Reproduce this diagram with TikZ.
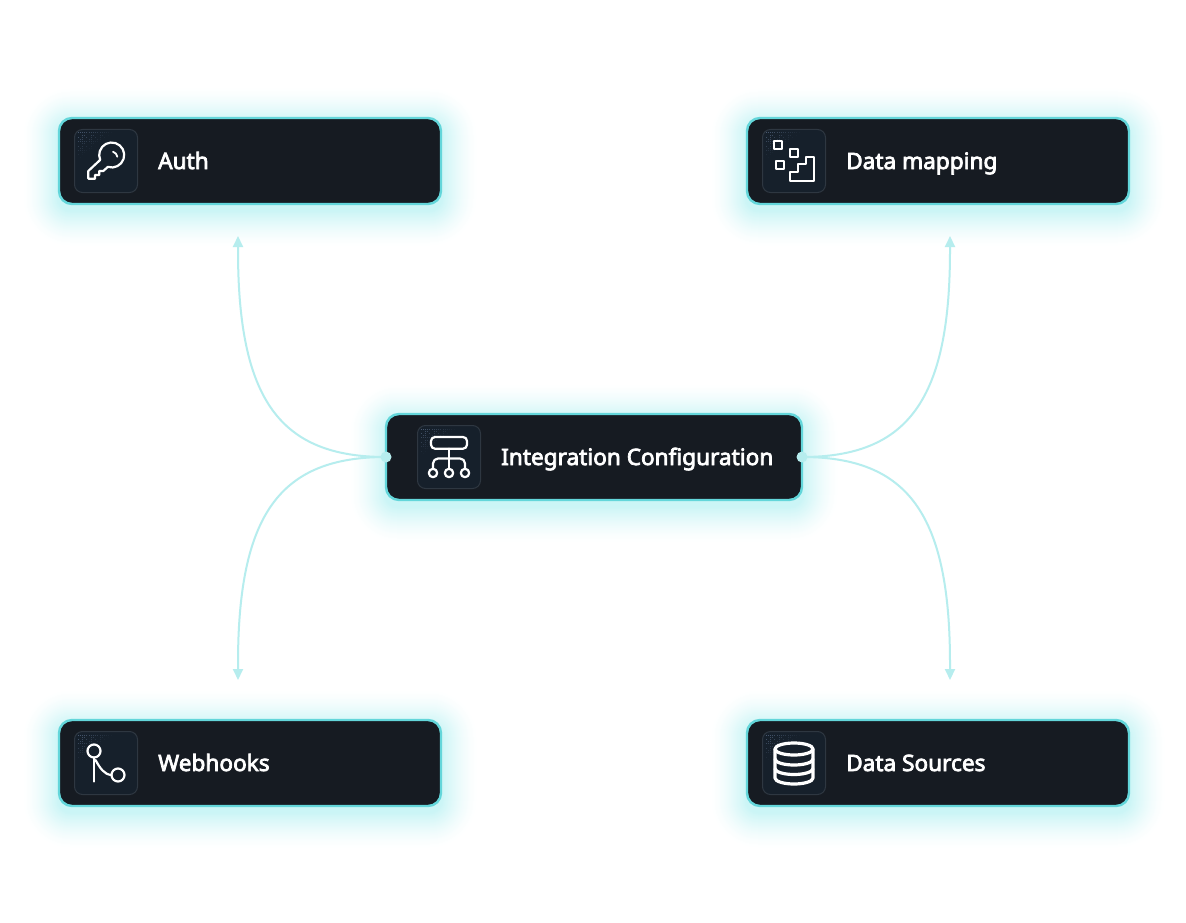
\documentclass[tikz,border=0pt]{standalone}
\usepackage{fontspec}
\setmainfont{Noto Sans}[FakeBold=3.2]
\usetikzlibrary{arrows.meta}
\definecolor{boxfill}{HTML}{161B22}
\definecolor{boxline}{HTML}{63D6DA}
\definecolor{glow}{HTML}{6FE3E6}
\definecolor{conn}{HTML}{B6EDEE}
\definecolor{tilefill}{HTML}{16202B}
\definecolor{tileline}{HTML}{2E3741}
\definecolor{dotc}{HTML}{50617A}
\tikzset{
  x=1pt,y=-1pt,
  panel/.style={draw=boxline,line width=2.4pt,fill=boxfill,rounded corners=13pt,minimum height=86pt,inner sep=0pt,outer sep=0pt},
  tile/.style={draw=tileline,line width=1pt,fill=tilefill,rounded corners=8pt,minimum width=63pt,minimum height=63pt,inner sep=0pt,outer sep=0pt},
  label/.style={text=white,font=\fontsize{22.6}{26}\selectfont,anchor=base west,inner sep=0pt},
  glyph/.style={draw=white,line width=2.2pt,line join=round,line cap=round},
  wire/.style={draw=conn,line width=2pt},
  arrowwire/.style={wire,-{Triangle[width=10pt,length=11pt]}},
  startdot/.style={fill=conn,circle,minimum size=11pt,inner sep=0pt}
}
% glow behind a panel, opaque rings from outer to inner: x0,y0,x1,y1
\newcommand{\glowbox}[4]{%
  \foreach \k in {36,35,...,1}{
    \pgfmathsetmacro{\pp}{36*((37-\k)/36)^1.5}
    \fill[glow!\pp!white,rounded corners=\k pt+12pt] (#1-\k,#2-\k+6) rectangle (#3+\k,#4+\k+6);
  }}
% speckle at a tile's top-left corner: x0,y0
\newcommand{\speckle}[2]{%
  \foreach \i in {0,...,15}{\foreach \j in {0,...,11}{
    \pgfmathsetmacro{\dd}{\i+1.3*\j}
    \pgfmathparse{int(mod(\i*\i*7+\j*\j*13+\i*\j*5,4)==1 ? 0 : 1)}
    \ifnum\pgfmathresult=1
    \ifdim\dd pt<16pt
      \pgfmathsetmacro{\op}{0.9-\dd/18}
      \fill[dotc,opacity=\op] (#1+3+\i*2.2,#2+3+\j*2.2) rectangle ++(1,1);
    \fi\fi
  }}}
\begin{document}
\begin{tikzpicture}
\useasboundingbox (0,0) rectangle (1186,923);
\fill[white] (0,0) rectangle (1186,923);
\glowbox{59}{118}{441}{204}
\glowbox{747}{118}{1129}{204}
\glowbox{386}{414}{802}{500}
\glowbox{59}{720}{441}{806}
\glowbox{747}{720}{1129}{806}

\coordinate (tipAuth) at (238,236);
\coordinate (tipMap) at (950,236);
\coordinate (tipHook) at (238,680);
\coordinate (tipSrc) at (950,680);

\node[panel,minimum width=382pt] (auth) at (250,161) {};
\node[panel,minimum width=382pt] (map) at (938,161) {};
\node[panel,minimum width=416pt] (cfg) at (594,457) {};
\node[panel,minimum width=382pt] (hook) at (250,763) {};
\node[panel,minimum width=382pt] (src) at (938,763) {};

\draw[arrowwire] (cfg.west) .. controls (280,457) and (238,400) .. (238,250) -- (tipAuth);
\draw[arrowwire] (cfg.west) .. controls (280,457) and (238,514) .. (238,664) -- (tipHook);
\draw[arrowwire] (cfg.east) .. controls (908,457) and (950,400) .. (950,250) -- (tipMap);
\draw[arrowwire] (cfg.east) .. controls (908,457) and (950,514) .. (950,664) -- (tipSrc);
\node[startdot] (dotL) at (cfg.west) {};
\node[startdot] (dotR) at (cfg.east) {};

\node[tile] (tAuth) at (106,161) {};
\node[tile] (tMap) at (794,161) {};
\node[tile] (tCfg) at (449,457) {};
\node[tile] (tHook) at (106,763) {};
\node[tile] (tSrc) at (794,763) {};
\speckle{74.5}{129.5}
\speckle{762.5}{129.5}
\speckle{417.5}{425.5}
\speckle{74.5}{731.5}
\speckle{762.5}{731.5}

\node[label] (lAuth) at (158,169) {Auth};
\node[label] (lMap) at (846,169) {Data mapping};
\node[label] (lCfg) at (501,465) {Integration Configuration};
\node[label] (lHook) at (158,771) {Webhooks};
\node[label] (lSrc) at (846,771) {Data Sources};

% key
\draw[glyph] (100.2,159.9) -- (88.3,171) -- (88.3,178.7) -- (95,178.7) -- (95,175) -- (99.3,175) -- (99.3,171) -- (103.3,171) -- (107.84,166.89)
  arc[start angle=252,end angle=563,x radius=12.5,y radius=-12.5];
\draw[glyph,line width=1.8pt] (113,151.7) .. controls (115.5,152.5) and (117,154.5) .. (117.3,156.7);

% data mapping
\draw[glyph] (773.7,140.7) rectangle (782.3,149.3);
\draw[glyph] (789.7,148.7) rectangle (798.3,157.3);
\draw[glyph] (775.7,160.7) rectangle (784.3,169.3);
\draw[glyph] (790,180.7) -- (790,172.3) -- (798.3,172.3) -- (798.3,164.3) -- (806,164.3) -- (806,157) -- (814.3,157) -- (814.3,180.7) -- cycle;

% integration
\draw[glyph,rounded corners=4pt] (431,437) rectangle (467,448.7);
\draw[glyph] (449,448.7) -- (449,468.5);
\draw[glyph,rounded corners=5pt] (433,468.5) -- (433,458.5) -- (465,458.5) -- (465,468.5);
\draw[glyph,fill=none] (433,473) circle[radius=4.2];
\draw[glyph,fill=none] (449,473) circle[radius=4.2];
\draw[glyph,fill=none] (465,473) circle[radius=4.2];

% webhooks
\draw[glyph] (94,751) circle[radius=6.5];
\draw[glyph] (118,775) circle[radius=6.5];
\draw[glyph] (94,757.5) -- (94,781.5);
\draw[glyph] (95.5,760) .. controls (100,768) and (104,774.5) .. (111.5,775);

% database
\draw[glyph,line width=3.2pt] (794,749) ellipse[x radius=19,y radius=6];
\draw[glyph,line width=3.2pt] (775,749) -- (775,778) arc[start angle=180,end angle=360,x radius=19,y radius=-6] -- (813,749);
\draw[glyph,line width=3.2pt] (775,759) arc[start angle=180,end angle=360,x radius=19,y radius=-6];
\draw[glyph,line width=3.2pt] (775,768.5) arc[start angle=180,end angle=360,x radius=19,y radius=-6];
\end{tikzpicture}
\end{document}
